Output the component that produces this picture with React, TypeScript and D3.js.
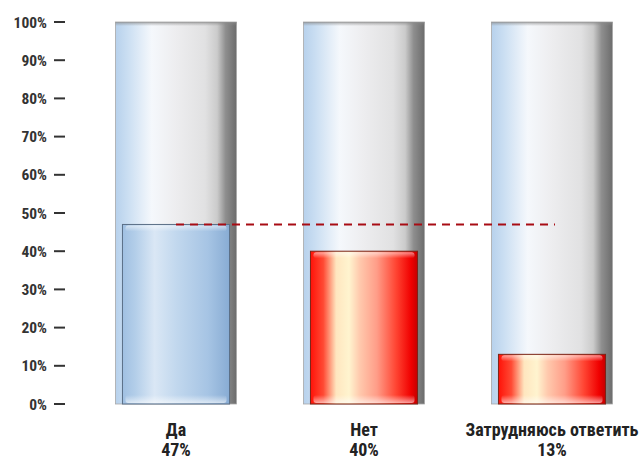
import React from "react";
import * as d3 from "d3";

const categories = ["Да", "Нет", "Затрудняюсь ответить"];
const values = [47, 40, 13];
const valueLabels = ["47%", "40%", "13%"];
const barColors = ["blue", "red", "red"];
const yTicks = [0, 10, 20, 30, 40, 50, 60, 70, 80, 90, 100];
const refValue = 47;

const W = 643;
const H = 459;

export default function App() {
  const x = d3.scaleBand<string>().domain(categories).range([82, 646]).paddingInner(0.356).paddingOuter(0.178);
  const y = d3.scaleLinear().domain([0, 100]).range([404, 22]);
  const bw = x.bandwidth();
  const inset = 7;
  const font = "'Roboto Condensed','DejaVu Sans Condensed','Liberation Sans Narrow',sans-serif";

  return (
    <svg width={W} height={H} style={{ position: "absolute", left: 0, top: 0, background: "#fff" }}>
      <defs>
        <linearGradient id="bg" x1="0" x2="1" y1="0" y2="0">
          <stop offset="0" stopColor="#b7d1ec" />
          <stop offset="0.1" stopColor="#cadef2" />
          <stop offset="0.3" stopColor="#f5f8fc" />
          <stop offset="0.5" stopColor="#ededef" />
          <stop offset="0.74" stopColor="#e1e1e2" />
          <stop offset="0.84" stopColor="#cbcbcb" />
          <stop offset="0.91" stopColor="#8e8e8e" />
          <stop offset="1" stopColor="#6c6c6c" />
        </linearGradient>
        <linearGradient id="bgTop" x1="0" x2="0" y1="0" y2="1">
          <stop offset="0" stopColor="#888" stopOpacity="0.7" />
          <stop offset="1" stopColor="#888" stopOpacity="0" />
        </linearGradient>
        <linearGradient id="blue" x1="0" x2="1" y1="0" y2="0">
          <stop offset="0" stopColor="#a0c0e2" />
          <stop offset="0.12" stopColor="#b3cee9" />
          <stop offset="0.3" stopColor="#dae7f5" />
          <stop offset="0.5" stopColor="#c2d8ee" />
          <stop offset="0.8" stopColor="#a6c4e4" />
          <stop offset="1" stopColor="#88acd4" />
        </linearGradient>
        <linearGradient id="red" x1="0" x2="1" y1="0" y2="0">
          <stop offset="0" stopColor="#ff1208" />
          <stop offset="0.12" stopColor="#ff4a34" />
          <stop offset="0.24" stopColor="#ffe6bf" />
          <stop offset="0.36" stopColor="#fff4cf" />
          <stop offset="0.46" stopColor="#ffc9ad" />
          <stop offset="0.62" stopColor="#ff9d88" />
          <stop offset="0.8" stopColor="#ff4432" />
          <stop offset="0.94" stopColor="#f00000" />
          <stop offset="1" stopColor="#c40000" />
        </linearGradient>
        <linearGradient id="hlTop" x1="0" x2="0" y1="0" y2="1">
          <stop offset="0" stopColor="#fff" stopOpacity="0.55" />
          <stop offset="1" stopColor="#fff" stopOpacity="0" />
        </linearGradient>
        <linearGradient id="hlBot" x1="0" x2="0" y1="0" y2="1">
          <stop offset="0" stopColor="#fff" stopOpacity="0" />
          <stop offset="1" stopColor="#fff" stopOpacity="0.6" />
        </linearGradient>
      </defs>

      {yTicks.map((t) => (
        <g key={t}>
          <text
            x={47}
            y={y(t)}
            dy="0.36em"
            textAnchor="end"
            fontFamily={font}
            fontWeight="bold"
            fontSize={15.5}
            fill="#333"
          >
            {t}%
          </text>
          <line x1={54} x2={65} y1={y(t)} y2={y(t)} stroke="#333" strokeWidth={2} />
        </g>
      ))}

      {categories.map((c) => (
        <g key={"bg" + c}>
          <rect x={x(c)} y={y(100)} width={bw} height={y(0) - y(100)} fill="url(#bg)" stroke="#a8a8a8" strokeWidth={0.8} />
          <rect x={x(c)} y={y(100)} width={bw} height={4} fill="url(#bgTop)" />
        </g>
      ))}

      {categories.map((c, i) => {
        const bx = (x(c) as number) + inset;
        const by = y(values[i]);
        const bh = y(0) - y(values[i]);
        const w = bw - inset * 2;
        const isBlue = barColors[i] === "blue";
        return (
          <g key={"bar" + c}>
            <rect
              x={bx}
              y={by}
              width={w}
              height={bh}
              fill={isBlue ? "url(#blue)" : "url(#red)"}
              stroke={isBlue ? "#5b6f86" : "#7a2418"}
              strokeWidth={1}
            />
            <rect x={bx + 3} y={by + 1} width={w - 6} height={6} rx={3} fill="url(#hlTop)" />
            <rect x={bx + 3} y={by + bh - 9} width={w - 6} height={8} rx={3} fill="url(#hlBot)" />
          </g>
        );
      })}

      <line
        x1={(x(categories[0]) as number) + bw / 2}
        x2={(x(categories[categories.length - 1]) as number) + bw / 2 + 3}
        y1={y(refValue)}
        y2={y(refValue)}
        stroke="#a80c14"
        strokeWidth={2}
        strokeDasharray="8 6"
      />

      {categories.map((c, i) => {
        const cx = (x(c) as number) + bw / 2;
        return (
          <g key={"lab" + c}>
            <text x={cx} y={436} textAnchor="middle" fontFamily={font} fontWeight="bold" fontSize={18} fill="#222">
              {c}
            </text>
            <text x={cx} y={456} textAnchor="middle" fontFamily={font} fontWeight="bold" fontSize={18} fill="#222">
              {valueLabels[i]}
            </text>
          </g>
        );
      })}
    </svg>
  );
}
